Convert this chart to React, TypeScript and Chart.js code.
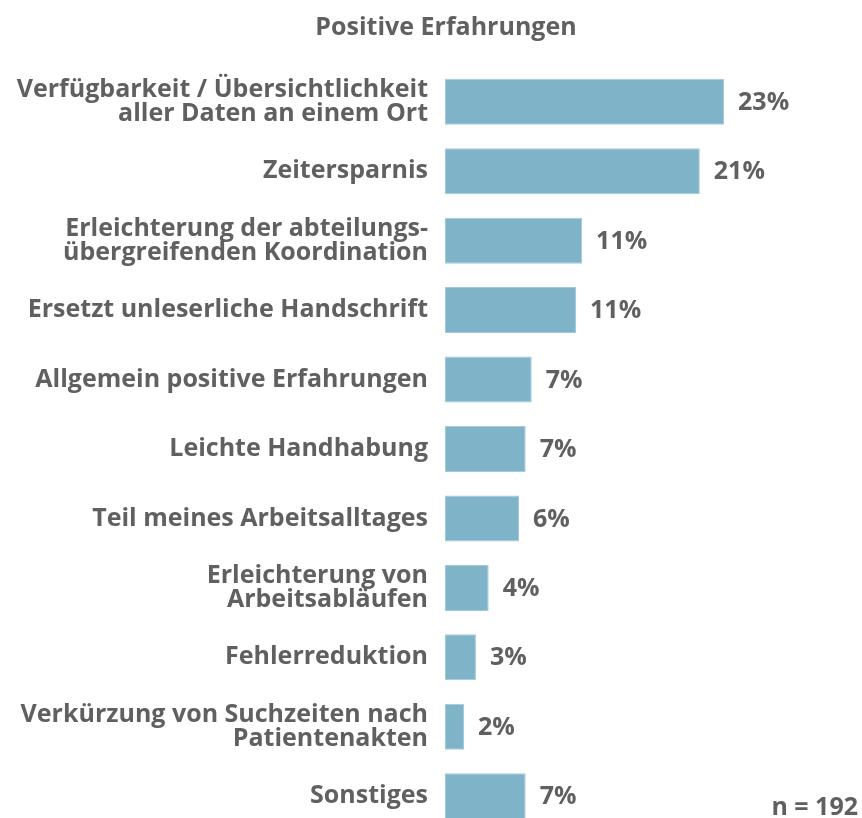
import React, { useEffect, useRef } from "react";
import { Chart, registerables } from "chart.js";

Chart.register(...registerables);

const title = "Positive Erfahrungen";
const sampleNote = "n = 192";
const categories: (string | string[])[] = [
  ["Verfügbarkeit / Übersichtlichkeit", "aller Daten an einem Ort"],
  "Zeitersparnis",
  ["Erleichterung der abteilungs-", "übergreifenden Koordination"],
  "Ersetzt unleserliche Handschrift",
  "Allgemein positive Erfahrungen",
  "Leichte Handhabung",
  "Teil meines Arbeitsalltages",
  ["Erleichterung von", "Arbeitsabläufen"],
  "Fehlerreduktion",
  ["Verkürzung von Suchzeiten nach", "Patientenakten"],
  "Sonstiges",
];
const values = [23.0, 21.0, 11.3, 10.8, 7.15, 6.65, 6.1, 3.6, 2.55, 1.57, 6.65];
const valueLabels = ["23%", "21%", "11%", "11%", "7%", "7%", "6%", "4%", "3%", "2%", "7%"];

const FONT = "'Open Sans', 'Noto Sans', sans-serif";
const FONT_SIZE = 25;
const TEXT_COLOR = "#606060";
const BAR_COLOR = "#7fb3c8";

export default function App() {
  const ref = useRef<HTMLCanvasElement | null>(null);
  useEffect(() => {
    if (!ref.current) return;
    const extras = {
      id: "extras",
      afterDatasetsDraw(chart: any) {
        const ctx = chart.ctx;
        const meta = chart.getDatasetMeta(0);
        ctx.save();
        ctx.fillStyle = TEXT_COLOR;
        ctx.font = `bold ${FONT_SIZE}px ${FONT}`;
        ctx.textAlign = "left";
        ctx.textBaseline = "middle";
        meta.data.forEach((el: any, i: number) => {
          ctx.fillText(valueLabels[i], el.x + 14, el.y + 1);
        });
        ctx.textAlign = "center";
        ctx.textBaseline = "alphabetic";
        ctx.fillText(title, 446, 35);
        ctx.textAlign = "right";
        ctx.fillText(sampleNote, 858, 815);
        ctx.restore();
      },
    };
    const chart = new Chart(ref.current, {
      type: "bar",
      data: {
        labels: categories as any,
        datasets: [
          {
            data: values,
            backgroundColor: BAR_COLOR,
            borderColor: "#a3cadb",
            borderWidth: 1,
            borderSkipped: false,
            barPercentage: 0.662,
            categoryPercentage: 1,
          },
        ],
      },
      options: {
        indexAxis: "y",
        animation: false,
        responsive: false,
        layout: { padding: { top: 67, right: 53, bottom: 0, left: 0 } },
        plugins: { legend: { display: false }, tooltip: { enabled: false }, title: { display: false } },
        scales: {
          x: { display: false, min: 0, max: 30 },
          y: {
            grid: { display: false, drawTicks: false },
            border: { display: false },
            ticks: {
              color: TEXT_COLOR,
              padding: 17,
              font: { family: FONT, size: FONT_SIZE, weight: "bold", lineHeight: 0.98 },
            },
            afterFit(scale: any) {
              scale.width = 445;
              scale.paddingTop = 0;
              scale.paddingBottom = 0;
            },
          },
        },
      },
      plugins: [extras],
    });
    return () => chart.destroy();
  }, []);
  return (
    <div style={{ position: "absolute", left: 0, top: 0, width: 862, height: 818, overflow: "hidden", background: "#fff" }}>
      <canvas ref={ref} width={862} height={831} />
    </div>
  );
}
